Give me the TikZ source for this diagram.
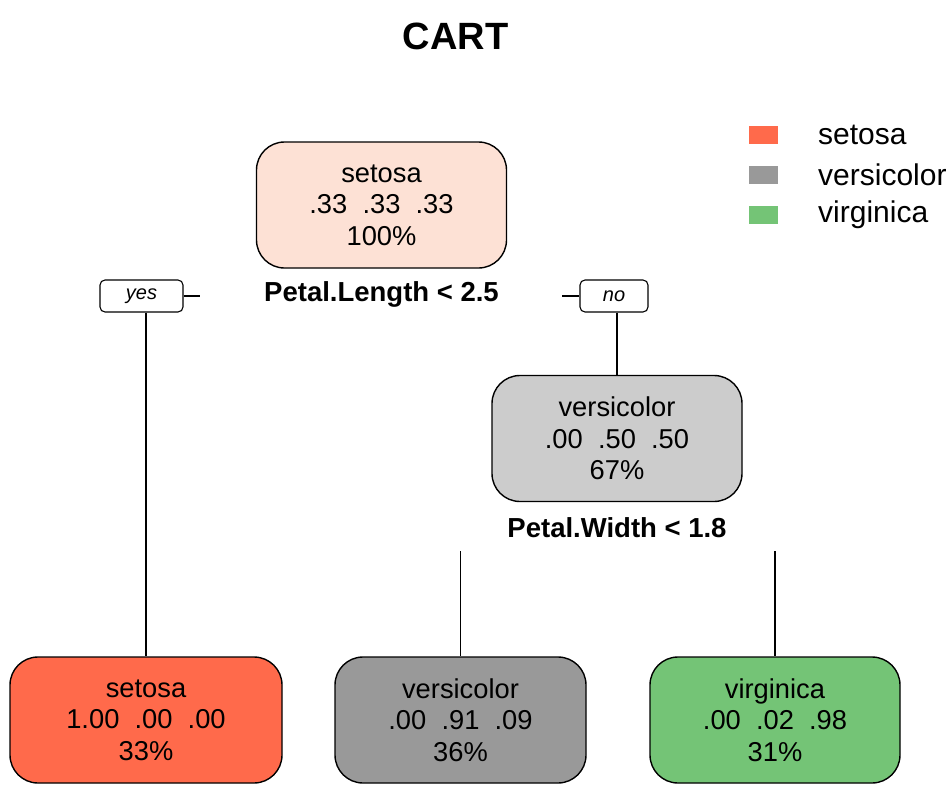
\documentclass[tikz,border=0pt]{standalone}
\usepackage{fontspec}
\setmainfont{Liberation Sans}
\definecolor{rootfill}{HTML}{FDE1D5}
\definecolor{setfill}{HTML}{FF6A4B}
\definecolor{verfill}{HTML}{999999}
\definecolor{midfill}{HTML}{CCCCCC}
\definecolor{virfill}{HTML}{74C476}
\tikzset{
  treenode/.style={draw=black, line width=1.4pt, rounded corners=28pt, minimum width=250pt, minimum height=126pt, inner sep=0pt, align=center, font=\fontsize{27.3}{31.5}\selectfont},
  splitlabel/.style={font=\bfseries\fontsize{27.5}{30}\selectfont, inner sep=0pt},
  yesno/.style={draw=black, line width=1.1pt, rounded corners=5pt, minimum height=32pt, inner sep=0pt, font=\itshape\fontsize{20}{22}\selectfont},
  edge/.style={line width=1.6pt},
  legtext/.style={font=\fontsize{30}{32}\selectfont, anchor=west, inner sep=0pt},
  legbox/.style={minimum width=29pt, minimum height=18pt, inner sep=0pt}
}
\begin{document}
\begin{tikzpicture}[x=1pt,y=-1pt]
\useasboundingbox (0,0) rectangle (951,811);
\fill[white] (0,0) rectangle (951,811);
\node[font=\bfseries\fontsize{38}{40}\selectfont] (title) at (455.5,36) {CART};
% legend
\node[legbox, fill=setfill] (lb1) at (763.5,134.5) {};
\node[legbox, fill=verfill] (lb2) at (763.5,174.5) {};
\node[legbox, fill=virfill] (lb3) at (763.5,215) {};
\node[legtext] (lt1) at (818,134.5) {setosa};
\node[legtext] (lt2) at (818,174.5) {versicolor};
\node[legtext] (lt3) at (818,215) {virginica};
% nodes
\node[treenode, fill=rootfill] (root) at (381.5,205) {setosa\\.33~~.33~~.33\\100\%};
\node[splitlabel] (s1) at (381.5,294) {Petal.Length < 2.5};
\node[treenode, fill=midfill] (mid) at (617,438.5) {versicolor\\.00~~.50~~.50\\67\%};
\node[splitlabel] (s2) at (617,528) {Petal.Width < 1.8};
\node[treenode, fill=setfill, minimum width=272pt] (l1) at (146,720) {setosa\\1.00~~.00~~.00\\33\%};
\node[treenode, fill=verfill, minimum width=251pt] (l2) at (460.5,720) {versicolor\\.00~~.91~~.09\\36\%};
\node[treenode, fill=virfill] (l3) at (775,720) {virginica\\.00~~.02~~.98\\31\%};
% yes / no
\node[yesno, minimum width=83pt] (yes) at (141.5,296) {yes};
\node[yesno, minimum width=68pt] (no) at (614,296) {no};
\coordinate (yesend) at (200,296);
\coordinate (noend) at (562,296);
\coordinate (m1) at (460.5,551);
\coordinate (m2) at (775,551);
\draw[edge] (yes.east) -- (yesend);
\draw[edge] (noend) -- (no.west);
\draw[edge] (yes.south -| l1.north) -- (l1.north);
\draw[edge] (no.south -| mid.north) -- (mid.north);
\draw[edge] (m1) -- (l2.north);
\draw[edge] (m2) -- (l3.north);
\end{tikzpicture}
\end{document}
